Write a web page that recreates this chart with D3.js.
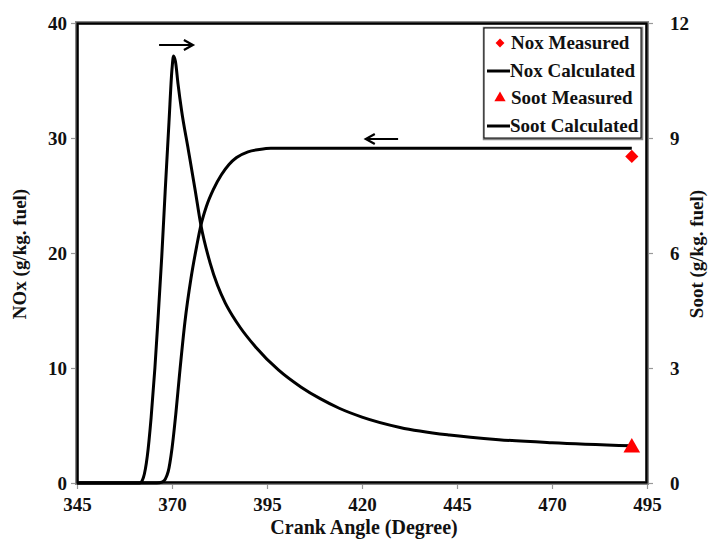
<!DOCTYPE html>
<html><head><meta charset="utf-8">
<script src="https://cdn.jsdelivr.net/npm/d3@7"></script>
<style>body{margin:0;background:#fff}svg{display:block}text{font-family:"Liberation Serif","Times New Roman",serif;font-weight:bold;fill:#111}</style>
</head><body>
<svg id="c" width="708" height="539"></svg>
<script>
const xTicks=[345,370,395,420,445,470,495];
const yLeftTicks=[0,10,20,30,40];
const yRightTicks=[0,3,6,9,12];
const noxAngle=[345,366,367.5,369,370,371,372,373.4,375,376.5,377.6,379,381,383,385,387,390,393,396,400,420,450,491];
const noxCalc=[0,0,0.1,1,3,6,9.5,14,17.8,20.6,22.4,24,25.6,26.8,27.7,28.3,28.8,29.0,29.1,29.1,29.1,29.1,29.1];
const sootAngle=[345,361.5,362.5,363.5,364.5,365.5,366.3,367.3,368.2,369.2,370,370.4,370.9,371.6,372.5,374.3,376.1,377.6,380,382,384,386,388,392,398,404,409,414,420,430,443,456,470,491];
const sootCalc=[0,0,0.15,0.7,1.7,3.0,4.25,5.9,7.6,9.4,10.8,11.14,11.0,10.4,9.73,8.69,7.64,6.73,5.75,5.15,4.7,4.35,4.05,3.55,2.95,2.5,2.2,1.95,1.72,1.45,1.25,1.13,1.05,0.97];
const noxMeasured=[{a:491,v:28.4}];
const sootMeasured=[{a:491,v:0.95}];
const legendItems=["Nox Measured","Nox Calculated","Soot Measured","Soot Calculated"];

const svg=d3.select("#c");
const L=77,R=647,T=23,B=483;
const x=d3.scaleLinear().domain([345,495]).range([L,R]);
const yL=d3.scaleLinear().domain([0,40]).range([B,T]);
const yR=d3.scaleLinear().domain([0,12]).range([B,T]);

const tickCol="#999";
const gx=svg.append("g").attr("transform",`translate(0,${B})`).call(d3.axisBottom(x).tickValues(xTicks).tickSize(6).tickPadding(9).tickFormat(d3.format("d")));
const gl=svg.append("g").attr("transform",`translate(${L},0)`).call(d3.axisLeft(yL).tickValues(yLeftTicks).tickSize(6).tickPadding(4));
const gr=svg.append("g").attr("transform",`translate(${R},0)`).call(d3.axisRight(yR).tickValues(yRightTicks).tickSize(6).tickPadding(17));
[gx,gl,gr].forEach(g=>{g.select(".domain").remove();g.selectAll(".tick line").attr("stroke",tickCol).attr("stroke-width",1.2);g.selectAll(".tick text").style("font-size","19px").attr("fill","#111");});
gr.selectAll(".tick text").attr("text-anchor","start");

svg.append("rect").attr("x",L).attr("y",T).attr("width",R-L).attr("height",B-T).attr("fill","none").attr("stroke","#888").attr("stroke-width",4);
svg.append("rect").attr("x",L+0.5).attr("y",T+0.5).attr("width",R-L-1).attr("height",B-T-1).attr("fill","none").attr("stroke","#000").attr("stroke-width",2.2);

const lineN=d3.line().x((d,i)=>x(noxAngle[i])).y(d=>yL(d)).curve(d3.curveMonotoneX);
const lineS=d3.line().x((d,i)=>x(sootAngle[i])).y(d=>yR(d)).curve(d3.curveMonotoneX);
svg.append("path").attr("d",lineN(noxCalc)).attr("fill","none").attr("stroke","#000").attr("stroke-width",3);
svg.append("path").attr("d",lineS(sootCalc)).attr("fill","none").attr("stroke","#000").attr("stroke-width",3);

svg.selectAll(".nm").data(noxMeasured).join("path").attr("transform",d=>`translate(${x(d.a)},${yL(d.v)})`).attr("d",d3.symbol(d3.symbolDiamond2,110)()).attr("fill","#f00");
svg.selectAll(".sm").data(sootMeasured).join("path").attr("transform",d=>`translate(${x(d.a)},${yR(d.v)+1})`).attr("d",d3.symbol(d3.symbolTriangle,120)()).attr("fill","#f00");

function arrow(x1,x2,y){
  svg.append("line").attr("x1",x1).attr("x2",x2).attr("y1",y).attr("y2",y).attr("stroke","#000").attr("stroke-width",2.2);
  const dir=x2>x1?1:-1;
  svg.append("path").attr("d",`M${x2-dir*9},${y-5}L${x2},${y}L${x2-dir*9},${y+5}`).attr("fill","none").attr("stroke","#000").attr("stroke-width",2.2);
}
arrow(x(366.6),x(375.5),45);
arrow(x(429.5),x(421),139);

const lg=svg.append("g");
lg.append("rect").attr("x",484).attr("y",28).attr("width",158).attr("height",111).attr("fill","#fff").attr("stroke","#888").attr("stroke-width",2.5);
lg.append("rect").attr("x",484).attr("y",28).attr("width",157).attr("height",110).attr("fill","#fff").attr("stroke","#000").attr("stroke-width",1);
const ly=[43,71,98,126];
legendItems.forEach((t,i)=>{
  const yy=ly[i];
  if(i===0) lg.append("path").attr("transform",`translate(500,${yy})`).attr("d",d3.symbol(d3.symbolDiamond2,50)()).attr("fill","#f00");
  else if(i===2) lg.append("path").attr("transform",`translate(500,${yy})`).attr("d",d3.symbol(d3.symbolTriangle,55)()).attr("fill","#f00");
  else lg.append("line").attr("x1",487).attr("x2",510).attr("y1",yy).attr("y2",yy).attr("stroke","#000").attr("stroke-width",3);
  lg.append("text").attr("x",i%2===0?511:510).attr("y",yy+6).style("font-size","19px").text(t);
});

svg.append("text").attr("x",364).attr("y",534).attr("text-anchor","middle").style("font-size","20px").text("Crank Angle (Degree)");
svg.append("text").attr("transform","translate(26,254) rotate(-90)").attr("text-anchor","middle").style("font-size","19px").text("NOx (g/kg. fuel)");
svg.append("text").attr("transform","translate(703,254) rotate(-90)").attr("text-anchor","middle").style("font-size","19px").text("Soot (g/kg. fuel)");
</script>
</body></html>
